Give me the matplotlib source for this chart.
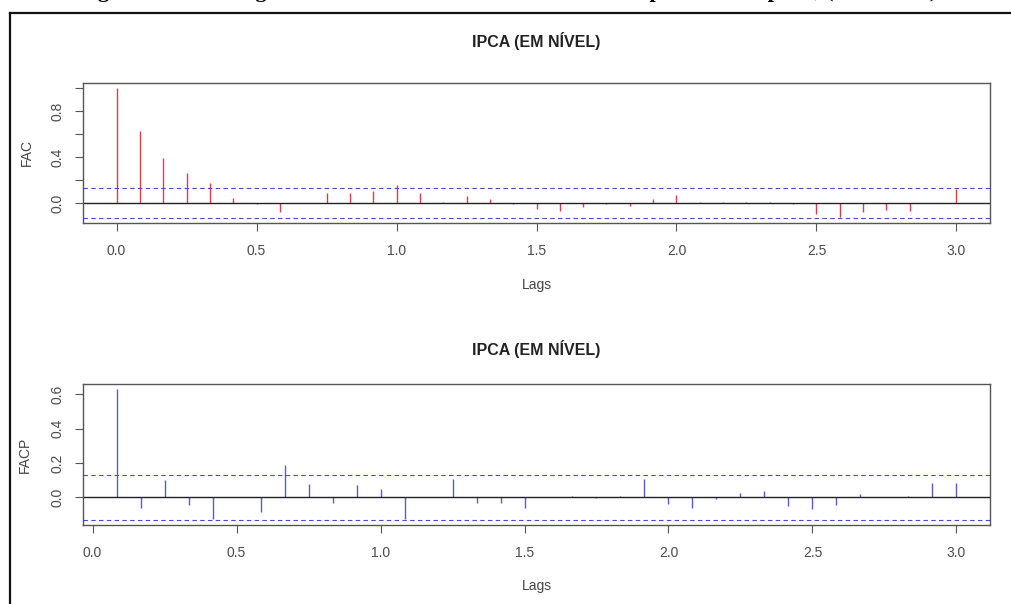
import numpy as np
import matplotlib.pyplot as plt
from matplotlib.lines import Line2D


# ------------------------------------------------------- #
# Dados

titulo = 'IPCA (EM NÍVEL)'
legenda = 'Figura 2 – Correlogramas FAC e FACP do IPCA em nível – período completo, (1995-2019)'

# FAC, defasagens 0 a 36 meses
fac = [1.00, 0.63, 0.39, 0.26, 0.17, 0.04, -0.01, -0.08, 0.00, 0.09,
       0.09, 0.10, 0.16, 0.09, 0.01, 0.06, 0.03, -0.01, -0.05, -0.07,
       -0.04, -0.01, -0.03, 0.03, 0.07, 0.01, 0.005, 0.005, 0.01, -0.01,
       -0.10, -0.12, -0.08, -0.06, -0.07, 0.00, 0.12]

# FACP, defasagens 1 a 36 meses
facp = [0.63, -0.06, 0.10, -0.045, -0.125, 0.005, -0.085, 0.19, 0.08, -0.03,
        0.07, 0.05, -0.125, 0.005, 0.11, -0.03, -0.035, -0.06, 0.00, 0.01,
        -0.005, 0.01, 0.11, -0.04, -0.06, -0.01, 0.025, 0.035, -0.05, -0.065,
        -0.045, 0.02, 0.00, 0.01, 0.085, 0.085]

# banda de confiança (2/sqrt(n))
ic = 0.13
freq = 12

xticks = [0.0, 0.5, 1.0, 1.5, 2.0, 2.5, 3.0]


# ------------------------------------------------------- #
# Figura

W, H = 1011, 604
plt.rcParams['font.family'] = ['Liberation Sans', 'DejaVu Sans']

fig = plt.figure(figsize=(W / 100, H / 100), dpi=100)
fig.patch.set_facecolor('white')

# moldura da figura (sai pela direita e por baixo)
fig.add_artist(Line2D([10 / W, 10 / W], [-0.01, 1 - 13 / H],
                      color='#111111', lw=1.6, transform=fig.transFigure))
fig.add_artist(Line2D([10 / W, 1.01], [1 - 13 / H, 1 - 13 / H],
                      color='#111111', lw=1.6, transform=fig.transFigure))

# legenda cortada no topo, só as pernas das letras aparecem
fig.text(78 / W, 1 + 3 / H, legenda, fontsize=16, fontweight='bold',
         family='Liberation Serif', va='baseline', ha='left')

paineis = [
    # (valores, primeira defasagem, ylabel, cor, caixa em px: topo, base, titulo y, yticks, rótulos)
    (fac, 0, 'FAC', '#dd3c4c', 83, 223, 41,
     [0.0, 0.2, 0.4, 0.6, 0.8, 1.0], ['0.0', '', '0.4', '', '0.8', ''], -0.0617, -0.443),
    (facp, 1, 'FACP', '#5a5ad8', 384, 525, 349,
     [0.0, 0.2, 0.4, 0.6], ['0.0', '0.2', '0.4', '0.6'], -0.064, -0.433),
]

x0, x1 = 83, 990

for vals, k0, ylab, cor, ptop, pbot, ytit, yt, ytl, ylx, xly in paineis:
    #
    ax = fig.add_axes([x0 / W, 1 - pbot / H, (x1 - x0) / W, (pbot - ptop) / H])

    lags = np.arange(k0, k0 + len(vals)) / freq

    # hastes
    ax.vlines(lags, 0, vals, color=cor, lw=1.0)
    ax.axhline(0, color='#222222', lw=1.0)
    for s in [ic, -ic]:
        ax.axhline(s, color='#4848d8', lw=0.8, dashes=(4, 3))
    # End for

    # limites no estilo R (4% de folga)
    lo = min(min(vals), -ic)
    hi = max(max(vals), ic)
    pad = 0.04 * (hi - lo)
    ax.set_ylim(lo - pad, hi + pad)
    pad = 0.04 * (lags[-1] - lags[0])
    ax.set_xlim(lags[0] - pad, lags[-1] + pad)

    ax.set_xticks(xticks)
    ax.set_xticklabels([f'{t:.1f}' for t in xticks])
    ax.set_yticks(yt)
    ax.set_yticklabels(ytl, rotation=90, ha='center', va='center')

    ax.tick_params(direction='out', length=6, width=0.8, color='#555555',
                   labelcolor='#4a4a4a', labelsize=10)
    ax.tick_params(axis='x', pad=9)
    ax.tick_params(axis='y', pad=12)

    for sp in ax.spines.values():
        sp.set_color('#555555')
        sp.set_linewidth(1.0)
    # End for

    ax.set_xlabel('Lags', fontsize=10, color='#444444', va='center')
    ax.xaxis.set_label_coords(0.5, xly)
    ax.set_ylabel(ylab, fontsize=10, color='#444444', va='center')
    ax.yaxis.set_label_coords(ylx, 0.5)

    fig.text((x0 + x1) / 2 / W, 1 - ytit / H, titulo, ha='center', va='center',
             fontsize=11.5, fontweight='bold', color='#222222')
# End for

plt.savefig('out.png', dpi=100)
